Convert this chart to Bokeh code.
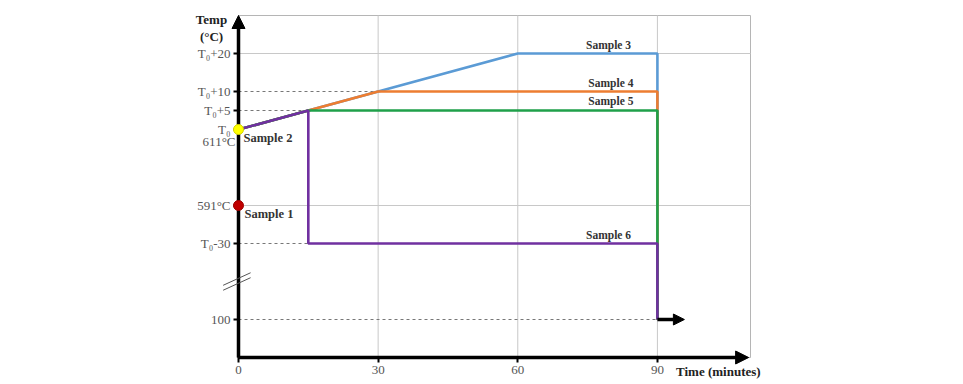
from bokeh.plotting import figure
from bokeh.models import (Range1d, FixedTicker, Label, Arrow, NormalHead,
                          LinearAxis)
from bokeh.embed import file_html
from bokeh.resources import INLINE

# ---------------- data ----------------
T0 = 611
sample3_t = [0, 15, 60, 90, 90]
sample3_T = [611, 616, 631, 631, 100]
sample4_t = [0, 15, 30, 90, 90]
sample4_T = [611, 616, 621, 621, 100]
sample5_t = [0, 15, 90, 90]
sample5_T = [611, 616, 616, 100]
sample6_t = [0, 15, 15, 90, 90]
sample6_T = [611, 616, 581, 581, 100]
sample1_pt = (0, 591)
sample2_pt = (0, 611)

x_ticks = [0, 30, 60, 90]
y_tick_vals = [631, 621, 616, 611, 591, 581, 100]
y_tick_labels = ["T\u2080+20", "T\u2080+10", "T\u2080+5", "T\u2080", "591°C", "T\u2080-30", "100"]

X_MAX = 110          # right edge of the plot box (minutes)
Y_MIN, Y_MAX = 551, 641  # plot box in transformed units
BREAK_BASE = 551     # broken axis: values below the break are compressed


def ty(v):
    """Broken-axis transform: upper part in °C, lower part compressed 10x."""
    return float(v) if v >= 500 else BREAK_BASE + v / 10.0


SERIF = "Liberation Serif"
W, H = 963, 384
# frame covers the whole canvas; axes are pinned at x=0 / y=Y_MIN
PX_PER_MIN = 512.0 / X_MAX
PX_PER_DEG = 342.0 / (Y_MAX - Y_MIN)
x0 = -238 / PX_PER_MIN
x1 = x0 + W / PX_PER_MIN
y1 = Y_MAX + 15 / PX_PER_DEG
y0 = y1 - H / PX_PER_DEG

p = figure(width=W, height=H, output_backend="svg", toolbar_location=None,
           x_range=Range1d(x0, x1), y_range=Range1d(y0, y1),
           x_axis_type=None, y_axis_type=None,
           min_border_left=0, min_border_right=0,
           min_border_top=0, min_border_bottom=0)
p.outline_line_color = None
p.background_fill_color = "white"
p.border_fill_color = "white"

GRID = "#c8c8c8"
# plot box
p.quad(left=[0], right=[X_MAX], bottom=[Y_MIN], top=[Y_MAX], fill_color=None,
       line_color="#b5b5b5", line_width=1)
# vertical grid lines
p.segment(x0=[30, 60, 90], y0=[Y_MIN] * 3, x1=[30, 60, 90], y1=[Y_MAX] * 3,
          line_color=GRID, line_width=1)
# horizontal grid lines
p.segment(x0=[0, 0], y0=[ty(631), ty(591)], x1=[X_MAX, X_MAX], y1=[ty(631), ty(591)],
          line_color=GRID, line_width=1)

# dashed reference lines
ref_y = [ty(621), ty(616), ty(581), ty(100)]
ref_x1 = [30, 15, 15, 90]
p.segment(x0=[0] * 4, y0=ref_y, x1=ref_x1, y1=ref_y,
          line_color="#777777", line_dash="3 3", line_width=1)

# axes pinned to the plot box
xaxis = LinearAxis(ticker=FixedTicker(ticks=x_ticks), fixed_location=Y_MIN,
                   bounds=(0, X_MAX - 1))
yaxis = LinearAxis(ticker=FixedTicker(ticks=[ty(v) for v in y_tick_vals]),
                   major_label_overrides={ty(v): s for v, s in zip(y_tick_vals, y_tick_labels)},
                   fixed_location=0, bounds=(Y_MIN, Y_MAX - 1))
for ax in (xaxis, yaxis):
    ax.axis_line_color = "black"
    ax.axis_line_width = 3
    ax.major_tick_line_color = "black"
    ax.major_tick_line_width = 2
    ax.major_tick_out = 5
    ax.major_tick_in = 0
    ax.minor_tick_line_color = None
    ax.major_label_text_font = SERIF
    ax.major_label_text_font_size = "13px"
    ax.major_label_text_color = "#555555"
    ax.major_label_standoff = 3
p.add_layout(xaxis, "below")
p.add_layout(yaxis, "left")

# axis arrows
p.add_layout(Arrow(end=NormalHead(size=13, fill_color="black", line_color="black"),
                   x_start=0, y_start=Y_MIN, x_end=0, y_end=Y_MAX,
                   line_width=3.5, line_color="black"))
p.add_layout(Arrow(end=NormalHead(size=13, fill_color="black", line_color="black"),
                   x_start=0, y_start=Y_MIN, x_end=X_MAX - 0.4, y_end=Y_MIN,
                   line_width=3.5, line_color="black"))

# break mark on the y axis
for dy in (0.0, -1.3):
    p.add_layout(Arrow(start=None, end=None, x_start=-3.3, y_start=570.0 + dy,
                       x_end=2.6, y_end=573.3 + dy, line_width=1, line_color="#555555"))

# series
lw = 2.6
p.line(sample3_t, [ty(v) for v in sample3_T], line_color="#5b9bd5", line_width=lw)
p.line(sample4_t, [ty(v) for v in sample4_T], line_color="#ed7d31", line_width=lw)
p.line(sample5_t, [ty(v) for v in sample5_T], line_color="#1fa04a", line_width=lw)
p.line(sample6_t, [ty(v) for v in sample6_T], line_color="#7030a0", line_width=lw)

# quench arrow at end of sample 6
p.add_layout(Arrow(end=NormalHead(size=11, fill_color="black", line_color="black"),
                   x_start=90, y_start=ty(100), x_end=95.8, y_end=ty(100),
                   line_width=3.5, line_color="black"))

# sample points (drawn above the axis line)
r2 = p.scatter([sample2_pt[0]], [ty(sample2_pt[1])], size=10, fill_color="#ffff00",
               line_color="#d4d400", line_width=1)
r1 = p.scatter([sample1_pt[0]], [ty(sample1_pt[1])], size=10, fill_color="#c00000",
               line_color="#a00000", line_width=1)
r1.level = "overlay"
r2.level = "overlay"


def lab(text, x, y, xo=0, yo=0, align="left", base="middle", bold=True, size="11.5px", color="#333333"):
    p.add_layout(Label(text=text, x=x, y=y, x_offset=xo, y_offset=yo,
                       text_align=align, text_baseline=base,
                       text_font=SERIF, text_font_size=size,
                       text_font_style="bold" if bold else "normal",
                       text_color=color))


lab("Sample 3", 79.5, ty(631), yo=3, align="center", base="bottom")
lab("Sample 4", 80.0, ty(621), yo=3, align="center", base="bottom")
lab("Sample 5", 80.0, ty(616), yo=4, align="center", base="bottom")
lab("Sample 6", 79.5, ty(581), yo=3, align="center", base="bottom")
lab("Sample 2", 0, ty(611), xo=5, yo=-8, align="left", size="12.5px")
lab("Sample 1", 0, ty(591), xo=6, yo=-8, align="left", size="12.5px")
lab("611°C", 0, ty(611), xo=-3, yo=-12, align="right", bold=False, size="13px", color="#555555")
lab("Temp", 0, Y_MAX, xo=-27, yo=-4, align="center", size="13px", color="#222222")
lab("(°C)", 0, Y_MAX, xo=-27, yo=-21, align="center", size="13px", color="#222222")
lab("Time (minutes)", 94.0, Y_MIN, yo=-14, align="left", size="13px", color="#222222")

open("out.html", "w").write(file_html(p, INLINE))
